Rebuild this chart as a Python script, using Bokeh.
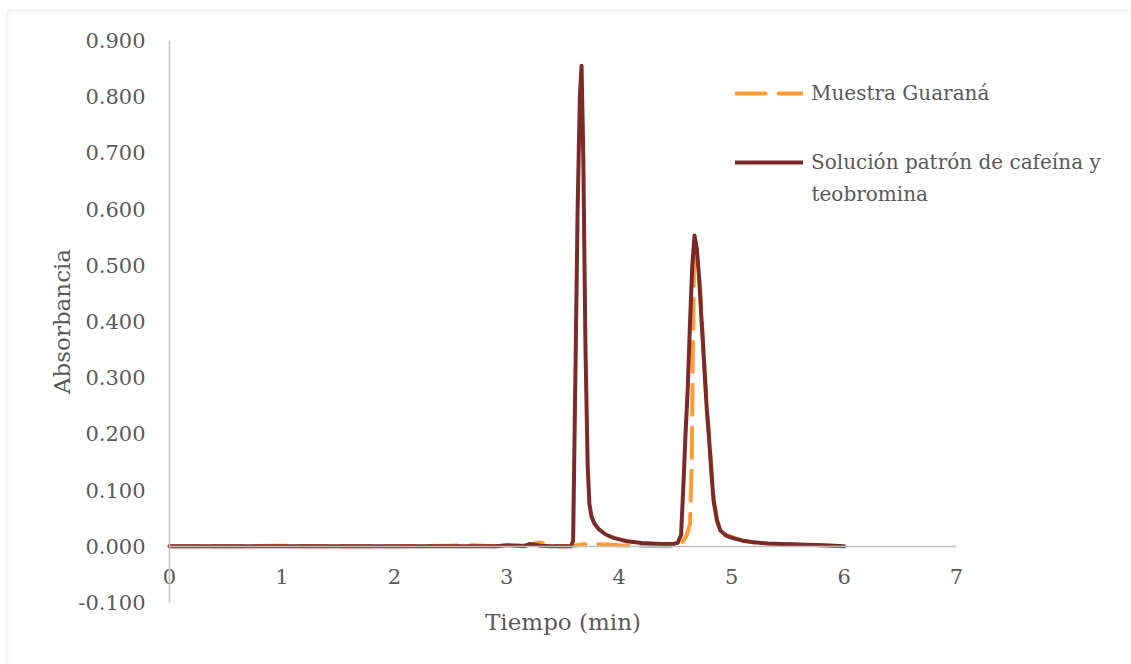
from bokeh.plotting import figure
from bokeh.models import (Range1d, NumeralTickFormatter, FixedTicker, Legend,
                          LegendItem, BoxAnnotation, Label)
from bokeh.embed import file_html
from bokeh.resources import INLINE

# Chromatogram: retention time (min) vs absorbance
tiempo_muestra = [0.0, 0.5, 1.0, 1.5, 2.0, 2.5, 2.7, 2.9, 3.0, 3.1, 3.2, 3.25, 3.3,
                  3.35, 3.4, 3.5, 3.6, 3.7, 3.8, 3.9, 4.0, 4.2, 4.4, 4.55, 4.6,
                  4.63, 4.645, 4.655, 4.665, 4.675, 4.69, 4.72, 4.75, 4.78, 4.80,
                  4.84, 4.87, 4.90, 4.95, 5.02, 5.1, 5.2, 5.32, 5.44, 5.6, 5.8, 6.0]
abs_muestra = [0.000, 0.000, 0.001, 0.000, 0.000, 0.001, 0.002, 0.000, 0.001, 0.001,
               0.002, 0.005, 0.007, 0.004, 0.001, 0.000, 0.001, 0.004, 0.004, 0.003,
               0.002, 0.001, 0.000, 0.002, 0.020, 0.040, 0.150, 0.350, 0.500, 0.545,
               0.520, 0.460, 0.345, 0.245, 0.195, 0.085, 0.048, 0.030, 0.020, 0.015,
               0.010, 0.007, 0.005, 0.004, 0.003, 0.002, 0.000]

tiempo_patron = [0.0, 0.5, 1.0, 1.5, 2.0, 2.5, 2.9, 3.0, 3.1, 3.15, 3.2, 3.25, 3.3,
                 3.4, 3.5, 3.57, 3.59, 3.61, 3.63, 3.65, 3.665, 3.68, 3.70, 3.72,
                 3.735, 3.755, 3.78, 3.82, 3.88, 3.95, 4.07, 4.2, 4.37, 4.48, 4.52,
                 4.55, 4.57, 4.59, 4.61, 4.63, 4.65, 4.67, 4.69, 4.71, 4.73, 4.75,
                 4.78, 4.80, 4.82, 4.84, 4.87, 4.90, 4.95, 5.02, 5.1, 5.2, 5.32,
                 5.44, 5.6, 5.8, 6.0]
abs_patron = [0.000, 0.000, 0.000, 0.000, 0.000, 0.000, 0.000, 0.002, 0.001, 0.000,
              0.004, 0.003, 0.001, 0.000, 0.000, 0.000, 0.010, 0.300, 0.600, 0.800,
              0.855, 0.700, 0.350, 0.140, 0.075, 0.052, 0.040, 0.030, 0.021, 0.015,
              0.009, 0.006, 0.004, 0.004, 0.006, 0.020, 0.105, 0.200, 0.283, 0.400,
              0.500, 0.553, 0.530, 0.480, 0.410, 0.343, 0.240, 0.190, 0.130, 0.080,
              0.045, 0.028, 0.019, 0.014, 0.010, 0.007, 0.005, 0.004, 0.003, 0.002,
              0.000]

x_ticks = [0, 1, 2, 3, 4, 5, 6, 7]
y_ticks = [-0.1, 0.0, 0.1, 0.2, 0.3, 0.4, 0.5, 0.6, 0.7, 0.8, 0.9]

FONT = "DejaVu Serif"
TXT = "#595959"
AXIS = "#bfbfbf"

W, H = 1131, 664
# pixel box of the axes (x 0..7, y -0.1..0.9); the frame spans the whole canvas
AX_L, AX_R, AX_T, AX_B = 169, 956, 40, 602
X0, X1, Y0, Y1 = 0.0, 7.0, -0.1, 0.9
sx = (X1 - X0) / (AX_R - AX_L)
sy = (Y1 - Y0) / (AX_B - AX_T)

p = figure(width=W, height=H, output_backend="svg", toolbar_location=None,
           x_range=Range1d(X0 - AX_L * sx, X1 + (W - AX_R) * sx),
           y_range=Range1d(Y0 - (H - AX_B) * sy, Y1 + AX_T * sy),
           min_border=0, min_border_left=0, min_border_right=0,
           min_border_top=0, min_border_bottom=0)
p.outline_line_color = None
p.xgrid.visible = False
p.ygrid.visible = False
p.background_fill_color = "white"
p.border_fill_color = "white"

naranja = p.line(tiempo_muestra, abs_muestra, line_color="#FF9A33", line_width=4,
                 line_dash="30 13", line_cap="round", line_join="round")
vino = p.line(tiempo_patron, abs_patron, line_color="#7B2A27", line_width=4,
              line_cap="round", line_join="round")

for ax in (p.xaxis[0], p.yaxis[0]):
    ax.axis_line_color = AXIS
    ax.axis_line_width = 1.5
    ax.major_tick_out = 0
    ax.major_tick_in = 0
    ax.minor_tick_out = 0
    ax.minor_tick_in = 0
    ax.major_label_text_font = FONT
    ax.major_label_text_font_size = "21px"
    ax.major_label_text_color = TXT
    ax.axis_label_text_font = FONT
    ax.axis_label_text_font_size = "23px"
    ax.axis_label_text_color = TXT
    ax.axis_label_text_font_style = "normal"

p.xaxis.ticker = FixedTicker(ticks=x_ticks)
p.xaxis.fixed_location = 0
p.xaxis.bounds = (X0, X1)
p.xaxis.major_label_standoff = 23
p.xaxis.axis_label = "Tiempo (min)"
p.xaxis.axis_label_standoff = 21

p.yaxis.ticker = FixedTicker(ticks=y_ticks)
p.yaxis.formatter = NumeralTickFormatter(format="0.000")
p.yaxis.fixed_location = 0
p.yaxis.bounds = (Y0, Y1)
p.yaxis.major_label_standoff = 24
p.yaxis.axis_label = "Absorbancia"
p.yaxis.axis_label_standoff = 0

legend = Legend(items=[
    LegendItem(label="Muestra Guaraná", renderers=[naranja]),
    LegendItem(label="Solución patrón de cafeína y", renderers=[vino]),
], location=(735, 490))
legend.glyph_width = 68
legend.glyph_height = 20
legend.label_standoff = 8
legend.spacing = 45
legend.padding = 0
legend.margin = 0
legend.border_line_color = None
legend.background_fill_alpha = 0
legend.label_text_font = FONT
legend.label_text_font_size = "20px"
legend.label_text_color = TXT
p.add_layout(legend, "center")

# second line of the standard-solution legend entry
p.add_layout(Label(x=X0 + (811 - AX_L) * sx, y=Y1 - (193 - AX_T) * sy,
                   text="teobromina", text_font=FONT, text_font_size="20px",
                   text_color=TXT, text_baseline="middle", text_align="left"))

# light frame around the chart area
p.add_layout(BoxAnnotation(left=7, right=1200, top=10, bottom=720,
                           left_units="canvas", right_units="canvas",
                           top_units="canvas", bottom_units="canvas",
                           fill_color=None, line_color="#d4d4d4", line_width=2,
                           level="underlay"))

open("out.html", "w").write(file_html(p, INLINE))
